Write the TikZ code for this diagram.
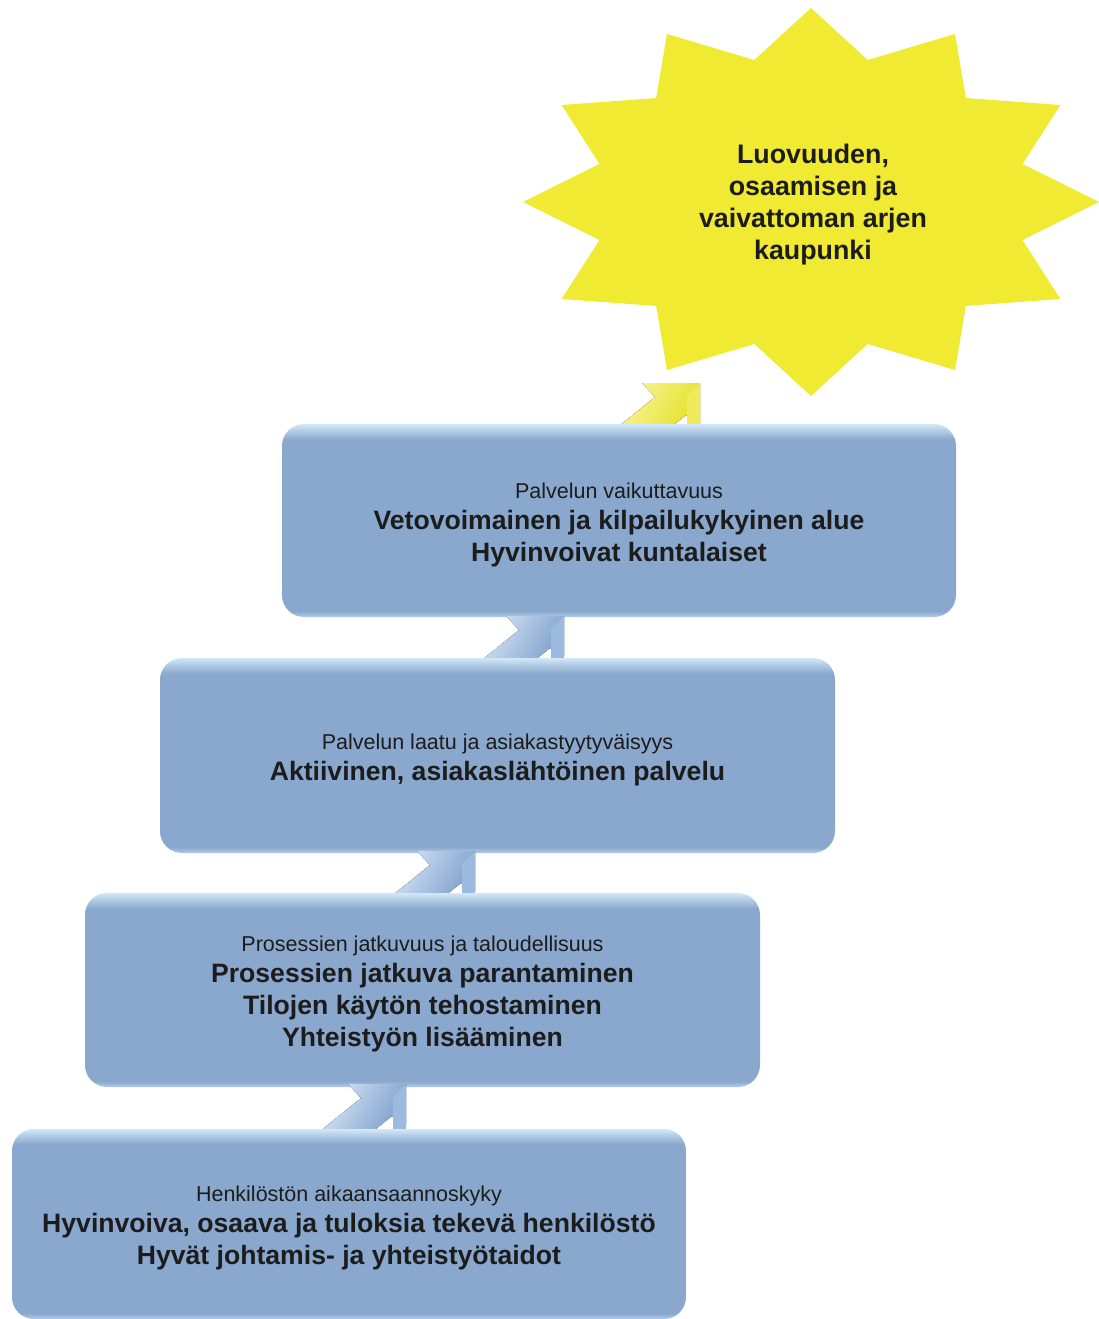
\documentclass[tikz,border=0pt]{standalone}
\usepackage{fontspec}
\setmainfont{Liberation Sans}
\usetikzlibrary{calc}
\definecolor{boxmain}{RGB}{138,168,205}
\definecolor{boxtop}{RGB}{210,232,248}
\definecolor{boxbot}{RGB}{178,204,234}
\definecolor{stary}{RGB}{240,234,50}
\definecolor{txt}{RGB}{28,28,28}
\definecolor{arrlight}{RGB}{214,229,246}
\definecolor{arrdark}{RGB}{128,161,204}
\definecolor{arrface}{RGB}{156,186,224}
\definecolor{yarrlight}{RGB}{248,246,160}
\definecolor{yarrdark}{RGB}{230,224,40}
\definecolor{yarrface}{RGB}{240,234,90}
\pgfdeclareverticalshading{boxshade}{100bp}{color(0bp)=(boxbot); color(25bp)=(boxbot); color(26.5bp)=(boxmain); color(71bp)=(boxmain); color(75bp)=(boxtop); color(100bp)=(boxtop)}
\newcommand\subt[1]{{\fontsize{21.5}{24}\selectfont\mdseries\rule{0pt}{24pt}#1}\\[-1pt]}
\tikzset{
  stepbox/.style={shading=boxshade, rounded corners=22pt, draw=none, text=txt,
    align=center, inner sep=0pt, font=\fontsize{26.6}{32}\selectfont\bfseries},
  arrowbody/.style={left color=arrlight, right color=arrdark, shading angle=60},
  arrowside/.style={fill=arrface},
}
\begin{document}
\begin{tikzpicture}[x=1pt,y=-1pt]
\useasboundingbox (0,0) rectangle (1099,1319);
% star
\fill[stary] plot[samples at={0,...,23}, variable=\k]
  ({811+(mod(\k,2)==0?288:219)*cos(90+15*\k)}, {202-(mod(\k,2)==0?194:147)*sin(90+15*\k)}) -- cycle;
\node[align=center, text=txt, font=\fontsize{26.8}{32}\selectfont\bfseries] (star) at (813,205)
  {Luovuuden,\\osaamisen ja\\vaivattoman arjen\\kaupunki};
% yellow arrow
\fill[left color=yarrlight, right color=yarrdark, shading angle=60]
  (700,383) -- (642,383) -- (655,397) -- (613,431) -- (666,431) -- (686,415) -- (700,423) -- cycle;
\fill[yarrface] (700,383) -- (700,431) -- (687,431) -- (687,396) -- cycle;
% box 1
\node[stepbox, minimum width=674, minimum height=193] (b1) at (619,520.5)
  {\subt{Palvelun vaikuttavuus}Vetovoimainen ja kilpailukykyinen alue\\Hyvinvoivat kuntalaiset};
\fill[arrowbody] (564,616) -- (506,616) -- (519,630) -- (477,664) -- (530,664) -- (550,648) -- (564,656) -- cycle;
\fill[arrowside] (564,616) -- (564,664) -- (551,664) -- (551,629) -- cycle;
% box 2
\node[stepbox, minimum width=675, minimum height=195] (b2) at (497.5,755.5)
  {\subt{Palvelun laatu ja asiakastyytyväisyys}Aktiivinen, asiakaslähtöinen palvelu};
\fill[arrowbody] (475,851) -- (417,851) -- (430,865) -- (388,899) -- (441,899) -- (461,883) -- (475,891) -- cycle;
\fill[arrowside] (475,851) -- (475,899) -- (462,899) -- (462,864) -- cycle;
% box 3
\node[stepbox, minimum width=675, minimum height=194] (b3) at (422.5,990)
  {\subt{Prosessien jatkuvuus ja taloudellisuus}Prosessien jatkuva parantaminen\\Tilojen käytön tehostaminen\\Yhteistyön lisääminen};
\fill[arrowbody] (406,1084) -- (348,1084) -- (361,1098) -- (319,1132) -- (372,1132) -- (392,1116) -- (406,1124) -- cycle;
\fill[arrowside] (406,1084) -- (406,1132) -- (393,1132) -- (393,1097) -- cycle;
% box 4
\node[stepbox, minimum width=674, minimum height=190] (b4) at (349,1224)
  {\subt{Henkilöstön aikaansaannoskyky}Hyvinvoiva, osaava ja tuloksia tekevä henkilöstö\\Hyvät johtamis- ja yhteistyötaidot};
\end{tikzpicture}
\end{document}
